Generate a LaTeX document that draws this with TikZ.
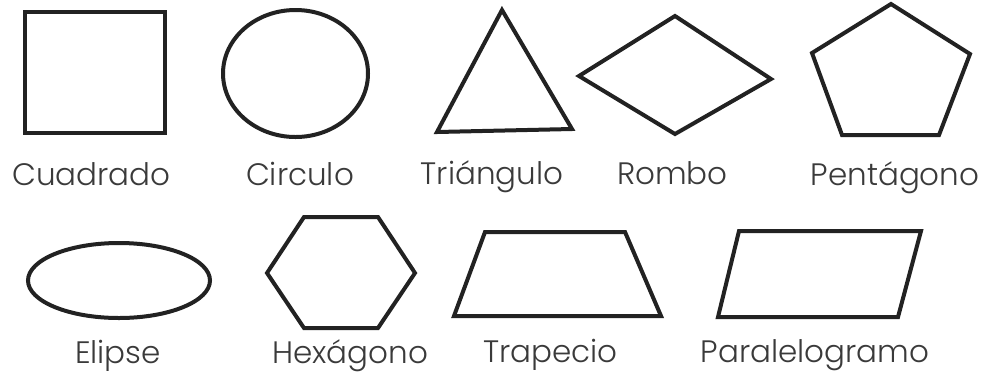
\documentclass[tikz,border=0pt]{standalone}
\usepackage{fontspec}
\setmainfont{Poppins}[UprightFont=* Light]
\usetikzlibrary{shapes.geometric}
\definecolor{stroke}{HTML}{222222}
\definecolor{txt}{HTML}{3A3A3A}
\tikzset{
  shp/.style={draw=stroke, line width=2pt, line join=miter},
  lbl/.style={anchor=base, inner sep=0pt, text=txt, font=\fontsize{15.5pt}{18pt}\selectfont}
}
\begin{document}
\begin{tikzpicture}[x=0.5pt,y=-0.5pt]
\useasboundingbox (0,0) rectangle (985,371);
% top row
\draw[shp] (25,12) rectangle (165,133);
\draw[shp] (295.5,73.5) ellipse [x radius=72.5, y radius=63.5];
\draw[shp] (502,10) -- (572,129) -- (437,132) -- cycle;
\draw[shp] (579,76) -- (675,16) -- (771,79) -- (675,134) -- cycle;
\draw[shp] (891,4) -- (970,54) -- (939,135) -- (842,135) -- (812,53) -- cycle;
% bottom row
\draw[shp] (119,280.5) ellipse [x radius=91, y radius=37.5];
\draw[shp] (267,273) -- (304,217) -- (378,217) -- (415,273) -- (378,328) -- (304,328) -- cycle;
\draw[shp] (485,232) -- (625,232) -- (661,316) -- (454,316) -- cycle;
\draw[shp] (739,231) -- (921,231) -- (898,317) -- (718,317) -- cycle;
% labels
\node[lbl] (lcuad) at (91.5,185) {Cuadrado};
\node[lbl] (lcirc) at (300,185) {Circulo};
\node[lbl] (ltri) at (492,184) {Triángulo};
\node[lbl] (lrom) at (672.5,184) {Rombo};
\node[lbl] (lpen) at (895,185) {Pentágono};
\node[lbl] (lelip) at (118,363) {Elipse};
\node[lbl] (lhex) at (350,363) {Hexágono};
\node[lbl] (ltrap) at (550.5,362) {Trapecio};
\node[lbl] (lpar) at (815,362) {Paralelogramo};
\end{tikzpicture}
\end{document}
